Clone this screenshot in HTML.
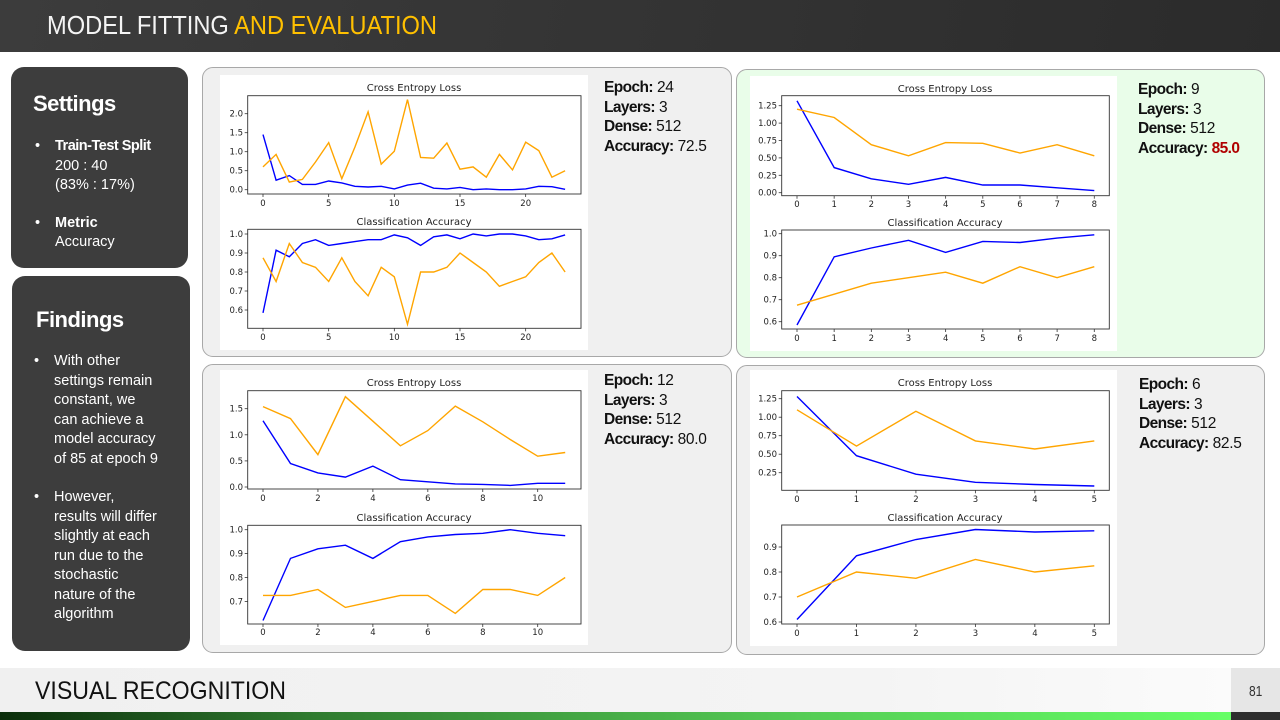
<!DOCTYPE html>
<html><head><meta charset="utf-8"><style>
*{margin:0;padding:0;box-sizing:border-box}
body{width:1280px;height:720px;position:relative;background:#fff;font-family:"Liberation Sans",sans-serif;overflow:hidden}
.abs{position:absolute}
#hdr{left:0;top:0;width:1280px;height:52px;background:linear-gradient(100deg,#3c3c3c,#2b2b2b)}
#hdr span.t{position:absolute;left:47px;top:10px;font-size:26px;color:#f4f4f4;transform:scaleX(0.91);transform-origin:0 0;white-space:nowrap}
.dark{background:#3d3d3d;border-radius:13px;color:#fff}
.panel{border:1px solid #a8a8a8;border-radius:11px;background:#f0f0f0}
.img{background:#fff}
.info{font-size:15.5px;line-height:19.5px;color:#111;letter-spacing:-0.3px}
.info b{letter-spacing:-0.6px}
.bl{position:relative;padding-left:20px;white-space:nowrap}
.bl:before{content:"•";position:absolute;left:0;top:0}
</style></head><body>
<div id="hdr" class="abs"><span class="t">MODEL FITTING <span style="color:#ffc000">AND EVALUATION</span></span></div>

<div class="abs dark" style="left:11px;top:67px;width:177px;height:201px">
<div class="abs" style="left:22px;top:24px;font-size:22px;font-weight:bold;letter-spacing:-0.5px">Settings</div>
<div class="abs" style="left:24px;top:70px;font-size:14.5px;line-height:19.5px;width:150px">
<div class="bl"><b style="letter-spacing:-0.5px">Train-Test Split</b><br>200 : 40<br>(83% : 17%)</div>
<div class="bl" style="margin-top:18px"><b>Metric</b><br>Accuracy</div></div>
</div>
<div class="abs dark" style="left:12px;top:276px;width:178px;height:375px">
<div class="abs" style="left:24px;top:31px;font-size:22px;font-weight:bold;letter-spacing:-0.5px">Findings</div>
<div class="abs" style="left:22px;top:76px;font-size:14.5px;line-height:19.5px;width:160px">
<div class="bl">With other<br>settings remain<br>constant, we<br>can achieve a<br>model accuracy<br>of 85 at epoch 9</div>
<div class="bl" style="margin-top:19px">However,<br>results will differ<br>slightly at each<br>run due to the<br>stochastic<br>nature of the<br>algorithm</div></div>
</div>

<div class="abs panel" style="left:202px;top:67px;width:530px;height:290px"></div>
<div class="abs panel" style="left:736px;top:69px;width:529px;height:289px;background:#e9fde9"></div>
<div class="abs panel" style="left:202px;top:364px;width:530px;height:289px"></div>
<div class="abs panel" style="left:736px;top:365px;width:529px;height:290px"></div>

<div class="abs img" style="left:220px;top:75px;width:368px;height:275px"></div>
<div class="abs img" style="left:750px;top:76px;width:367px;height:275px"></div>
<div class="abs img" style="left:220px;top:370px;width:368px;height:275px"></div>
<div class="abs img" style="left:750px;top:370px;width:367px;height:276px"></div>

<div class="abs info" style="left:604px;top:78px"><b>Epoch:</b> 24<br><b>Layers:</b> 3<br><b>Dense:</b> 512<br><b>Accuracy:</b> 72.5</div>
<div class="abs info" style="left:1138px;top:80px"><b>Epoch:</b> 9<br><b>Layers:</b> 3<br><b>Dense:</b> 512<br><b>Accuracy:</b> <b style="color:#b00000">85.0</b></div>
<div class="abs info" style="left:604px;top:371px"><b>Epoch:</b> 12<br><b>Layers:</b> 3<br><b>Dense:</b> 512<br><b>Accuracy:</b> 80.0</div>
<div class="abs info" style="left:1139px;top:375px"><b>Epoch:</b> 6<br><b>Layers:</b> 3<br><b>Dense:</b> 512<br><b>Accuracy:</b> 82.5</div>

<svg class="abs" style="left:0;top:0" width="1280" height="720" font-family="DejaVu Sans,sans-serif" font-size="8.5" fill="#222">
<g id="g"></g>
<g text-anchor="middle" font-size="10">
<text x="414" y="91">Cross Entropy Loss</text><text x="414" y="225">Classification Accuracy</text>
<text x="945" y="92">Cross Entropy Loss</text><text x="945" y="226">Classification Accuracy</text>
<text x="414" y="386">Cross Entropy Loss</text><text x="414" y="521">Classification Accuracy</text>
<text x="945" y="386">Cross Entropy Loss</text><text x="945" y="521">Classification Accuracy</text>
</g>
<g text-anchor="end">
<text x="243" y="192.7">0.0</text><text x="243" y="173.7">0.5</text><text x="243" y="154.7">1.0</text><text x="243" y="135.7">1.5</text><text x="243" y="116.7">2.0</text>
<text x="243" y="237">1.0</text><text x="243" y="256">0.9</text><text x="243" y="275">0.8</text><text x="243" y="294">0.7</text><text x="243" y="313">0.6</text>
<text x="777" y="108.7">1.25</text><text x="777" y="126.1">1.00</text><text x="777" y="143.5">0.75</text><text x="777" y="160.9">0.50</text><text x="777" y="178.3">0.25</text><text x="777" y="195.7">0.00</text>
<text x="777" y="236.7">1.0</text><text x="777" y="258.7">0.9</text><text x="777" y="280.7">0.8</text><text x="777" y="302.7">0.7</text><text x="777" y="324.7">0.6</text>
<text x="243" y="490">0.0</text><text x="243" y="463.9">0.5</text><text x="243" y="437.8">1.0</text><text x="243" y="411.7">1.5</text>
<text x="243" y="532.7">1.0</text><text x="243" y="556.6">0.9</text><text x="243" y="580.5">0.8</text><text x="243" y="604.4">0.7</text>
<text x="777" y="401.7">1.25</text><text x="777" y="420.2">1.00</text><text x="777" y="438.7">0.75</text><text x="777" y="457.2">0.50</text><text x="777" y="475.7">0.25</text>
<text x="777" y="550">0.9</text><text x="777" y="575">0.8</text><text x="777" y="600">0.7</text><text x="777" y="625">0.6</text>
</g>
<g text-anchor="middle">
<text x="263" y="206">0</text><text x="328.7" y="206">5</text><text x="394.3" y="206">10</text><text x="460" y="206">15</text><text x="525.7" y="206">20</text>
<text x="263" y="340">0</text><text x="328.7" y="340">5</text><text x="394.3" y="340">10</text><text x="460" y="340">15</text><text x="525.7" y="340">20</text>
<text x="797" y="207">0</text><text x="834.2" y="207">1</text><text x="871.3" y="207">2</text><text x="908.5" y="207">3</text><text x="945.7" y="207">4</text><text x="982.8" y="207">5</text><text x="1020" y="207">6</text><text x="1057.2" y="207">7</text><text x="1094.3" y="207">8</text>
<text x="797" y="341">0</text><text x="834.2" y="341">1</text><text x="871.3" y="341">2</text><text x="908.5" y="341">3</text><text x="945.7" y="341">4</text><text x="982.8" y="341">5</text><text x="1020" y="341">6</text><text x="1057.2" y="341">7</text><text x="1094.3" y="341">8</text>
<text x="263" y="501">0</text><text x="317.9" y="501">2</text><text x="372.9" y="501">4</text><text x="427.8" y="501">6</text><text x="482.8" y="501">8</text><text x="537.7" y="501">10</text>
<text x="263" y="635">0</text><text x="317.9" y="635">2</text><text x="372.9" y="635">4</text><text x="427.8" y="635">6</text><text x="482.8" y="635">8</text><text x="537.7" y="635">10</text>
<text x="797" y="502">0</text><text x="856.5" y="502">1</text><text x="915.9" y="502">2</text><text x="975.4" y="502">3</text><text x="1034.9" y="502">4</text><text x="1094.3" y="502">5</text>
<text x="797" y="636">0</text><text x="856.5" y="636">1</text><text x="915.9" y="636">2</text><text x="975.4" y="636">3</text><text x="1034.9" y="636">4</text><text x="1094.3" y="636">5</text>
</g>
</svg>

<div class="abs" style="left:0;top:668px;width:1231px;height:44px;background:linear-gradient(90deg,#f0f0f0,#f4f4f4 70%,#fbfbfb)"></div>
<div class="abs" style="left:1231px;top:668px;width:49px;height:44px;background:#e6e6e6"></div>
<div class="abs" style="left:35px;top:677px;font-size:25px;color:#111;transform:scaleX(0.925);transform-origin:0 0;white-space:nowrap">VISUAL RECOGNITION</div>
<div class="abs" style="left:1249px;top:683px;font-size:15px;color:#333;transform:scaleX(0.8);transform-origin:0 0">81</div>
<div class="abs" style="left:0;top:712px;width:1231px;height:8px;background:linear-gradient(90deg,#0b2e0b,#2f7a2f 25%,#55cc55 65%,#66ff66)"></div>
<div class="abs" style="left:1231px;top:712px;width:49px;height:8px;background:#2e2e2e"></div>

<script>
var NS="http://www.w3.org/2000/svg",g=document.getElementById("g");
function el(t,a){var e=document.createElementNS(NS,t);for(var k in a)e.setAttribute(k,a[k]);g.appendChild(e);}
function plot(ax,x0,dx,yv,yk,series,xt,yt){
 el("rect",{x:ax[0],y:ax[1],width:ax[2]-ax[0],height:ax[3]-ax[1],fill:"none",stroke:"#333","stroke-width":0.9});
 xt.forEach(function(t){var x=x0+dx*t;el("line",{x1:x,x2:x,y1:ax[3],y2:ax[3]+3,stroke:"#333","stroke-width":0.8});});
 yt.forEach(function(t){var y=yv+yk*t;el("line",{x1:ax[0]-3,x2:ax[0],y1:y,y2:y,stroke:"#333","stroke-width":0.8});});
 series.forEach(function(s){var p=s[1].map(function(v,i){return (x0+dx*i).toFixed(1)+","+(yv+yk*v).toFixed(1)}).join(" ");
  el("polyline",{points:p,fill:"none",stroke:s[0],"stroke-width":1.4});});
}
var B="#0000ff",O="#ffa500";
plot([247.7,95.7,581,194],263,13.133,189.7,-38,[[B,[1.45,0.25,0.37,0.14,0.14,0.23,0.18,0.09,0.07,0.09,0.02,0.12,0.17,0.04,0.02,0.06,0.0,0.02,0.0,0.0,0.02,0.09,0.08,0.01]],[O,[0.6,0.93,0.2,0.27,0.73,1.24,0.29,1.12,2.05,0.67,1.01,2.37,0.85,0.83,1.23,0.54,0.6,0.33,0.93,0.52,1.25,1.03,0.33,0.5]]],[0,5,10,15,20],[0,0.5,1,1.5,2]);
plot([247.7,229.3,581,328.3],263,13.133,424,-190,[[B,[0.585,0.915,0.88,0.95,0.97,0.94,0.95,0.96,0.97,0.97,0.995,0.98,0.94,0.985,0.995,0.975,1.0,0.99,1.0,1.0,0.99,0.97,0.975,0.995]],[O,[0.875,0.75,0.95,0.85,0.825,0.75,0.875,0.75,0.675,0.825,0.775,0.525,0.8,0.8,0.825,0.9,0.85,0.8,0.725,0.75,0.775,0.85,0.9,0.8]]],[0,5,10,15,20],[1,0.9,0.8,0.7,0.6]);
plot([781.7,95.7,1109.3,195.7],797,37.16,192.7,-69.6,[[B,[1.32,0.36,0.2,0.12,0.22,0.11,0.11,0.07,0.03]],[O,[1.2,1.08,0.69,0.53,0.72,0.71,0.57,0.69,0.53]]],[0,1,2,3,4,5,6,7,8],[0,0.25,0.5,0.75,1,1.25]);
plot([781.7,230,1109.3,329],797,37.16,453.7,-220,[[B,[0.585,0.895,0.935,0.97,0.915,0.965,0.96,0.98,0.995]],[O,[0.675,0.725,0.775,0.8,0.825,0.775,0.85,0.8,0.85]]],[0,1,2,3,4,5,6,7,8],[1,0.9,0.8,0.7,0.6]);
plot([247.7,390.7,581,489],263,27.47,487,-52.2,[[B,[1.27,0.45,0.27,0.19,0.4,0.14,0.1,0.06,0.05,0.03,0.07,0.07]],[O,[1.54,1.31,0.62,1.73,1.26,0.79,1.08,1.55,1.25,0.91,0.59,0.66]]],[0,2,4,6,8,10],[0,0.5,1,1.5]);
plot([247.7,525.3,581,624],263,27.47,768.7,-239,[[B,[0.62,0.88,0.92,0.935,0.88,0.95,0.97,0.98,0.985,1.0,0.985,0.975]],[O,[0.725,0.725,0.75,0.675,0.7,0.725,0.725,0.65,0.75,0.75,0.725,0.8]]],[0,2,4,6,8,10],[1,0.9,0.8,0.7]);
plot([781.7,390.7,1109.3,490.3],797,59.46,491.2,-74,[[B,[1.28,0.48,0.23,0.12,0.09,0.07]],[O,[1.1,0.61,1.08,0.68,0.57,0.68]]],[0,1,2,3,4,5],[0.25,0.5,0.75,1,1.25]);
plot([781.7,525,1109.3,624],797,59.46,772,-250,[[B,[0.61,0.865,0.93,0.97,0.96,0.965]],[O,[0.7,0.8,0.775,0.85,0.8,0.825]]],[0,1,2,3,4,5],[0.9,0.8,0.7,0.6]);
</script>
</body></html>
